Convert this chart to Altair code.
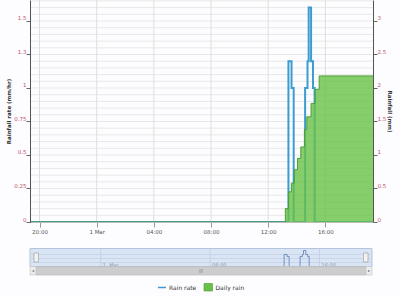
import altair as alt
import pandas as pd

# ---------------- data ----------------
rate_time = ["28 Feb 19:20", "1 Mar 13:25", "1 Mar 13:38", "1 Mar 13:47", "1 Mar 14:35",
             "1 Mar 14:45", "1 Mar 14:50", "1 Mar 15:00", "1 Mar 15:08", "1 Mar 15:15",
             "1 Mar 19:20"]
rate_mm_hr = [0, 1.2, 1.0, 0, 1.0, 1.2, 1.6, 1.2, 1.0, 0, 0]

rain_time = ["28 Feb 19:20", "1 Mar 13:12", "1 Mar 13:25", "1 Mar 13:37", "1 Mar 13:50",
             "1 Mar 14:03", "1 Mar 14:17", "1 Mar 14:32", "1 Mar 14:42", "1 Mar 15:00",
             "1 Mar 15:17", "1 Mar 15:34", "1 Mar 19:20"]
daily_rain_mm = [0, 0.2, 0.45, 0.58, 0.78, 0.95, 1.12, 1.38, 1.57, 1.77, 1.98, 2.18, 2.18]

x_tick_hours = [20, 24, 28, 32, 36, 40]          # hours after 28 Feb 00:00
x_tick_labels = ["20:00", "1 Mar", "04:00", "08:00", "12:00", "16:00"]
rate_ticks = [0, 0.25, 0.5, 0.75, 1, 1.25, 1.5]
rain_ticks = [0, 0.5, 1, 1.5, 2, 2.5, 3]
nav_tick_hours = [24, 32, 40]
nav_tick_labels = ["1. Mar", "08:00", "16:00"]
minor_grid = [round(i * 0.05, 2) for i in range(34)]

RATE_MAX = 1.6567
RAIN_MAX = 3.3134


def to_hours(s):
    day, mon, hm = s.split()
    h, m = hm.split(":")
    return (24 if mon == "Mar" else 0) + int(h) + int(m) / 60.0


X0, X1 = to_hours(rate_time[0]), to_hours(rate_time[-1])

rate_df = pd.DataFrame({"t": [to_hours(s) for s in rate_time], "v": rate_mm_hr})
rain_df = pd.DataFrame({"t": [to_hours(s) for s in rain_time], "v": daily_rain_mm})
hgrid_df = pd.DataFrame({"v": minor_grid, "x0": X0, "x1": X1})
vgrid_df = pd.DataFrame({"h": x_tick_hours, "y0": 0.0, "y1": RATE_MAX})
nav_df = pd.DataFrame({"h": nav_tick_hours, "lab": nav_tick_labels})
one = pd.DataFrame({"a": [0]})

# ---------------- scales (explicit pixel ranges) ----------------
main_x = alt.Scale(domain=[X0, X1], range=[30, 373], nice=False, zero=False)
rate_y = alt.Scale(domain=[0, RATE_MAX], range=[222, 0], nice=False, zero=False)
rain_y = alt.Scale(domain=[0, RAIN_MAX], range=[222, 0], nice=False, zero=False)
nav_x = alt.Scale(domain=[X0, X1], range=[37, 365], nice=False, zero=False)
nav_y = alt.Scale(domain=[0, 1.6], range=[266.5, 250.5], nice=False, zero=False)

FONT = "DejaVu Sans"
LABEL_RED = "#c4506a"

label_expr = " : ".join(
    f"datum.value == {h} ? '{lab}'" for h, lab in zip(x_tick_hours, x_tick_labels)
) + " : ''"

# ---------------- main plot ----------------
hgrid = alt.Chart(hgrid_df).mark_rule(color="#e8e8e8", strokeWidth=1).encode(
    y=alt.Y("v:Q", scale=rate_y, axis=None),
    x=alt.X("x0:Q", scale=main_x, axis=None),
    x2="x1:Q",
)
vgrid = alt.Chart(vgrid_df).mark_rule(color="#dedede", strokeWidth=1).encode(
    x=alt.X("h:Q", scale=main_x, axis=None),
    y=alt.Y("y0:Q", scale=rate_y, axis=None),
    y2="y1:Q",
)

rate_line = alt.Chart(rate_df).mark_line(
    interpolate="step-after", color="#3d9ccf", strokeWidth=2
).encode(
    x=alt.X("t:Q", scale=main_x, axis=alt.Axis(
        orient="bottom", offset=-74, values=x_tick_hours, labelExpr=label_expr,
        grid=False, title=None, labelFont=FONT, labelFontSize=5.5, labelColor="#555",
        tickSize=5, tickColor="#999", domainColor="#bbb", labelPadding=2,
        labelFlush=False, labelOverlap=False, zindex=1)),
    y=alt.Y("v:Q", scale=rate_y, axis=alt.Axis(
        orient="left", offset=-30, values=rate_ticks, format="~g", grid=False,
        title="Rainfall rate (mm/hr)", titleFont=FONT, titleFontSize=5.5,
        titleFontWeight="bold", titleColor="#333", titleX=-22, titleY=111,
        titleAngle=-90, titleAlign="center", titleBaseline="middle",
        labelFont=FONT, labelFontSize=5.5, labelColor=LABEL_RED, labelBaseline="bottom",
        tickSize=4, tickColor="#666", domainColor="#555", labelPadding=0,
        labelOverlap=False, labelFlush=False, zindex=1)),
)

rain_area = alt.Chart(rain_df).mark_area(
    interpolate="step-after", color="#68c046", fillOpacity=0.8,
    line={"color": "#4e9e33", "strokeWidth": 1},
).encode(
    x=alt.X("t:Q", scale=main_x, axis=None),
    y=alt.Y("v:Q", scale=rain_y, axis=alt.Axis(
        orient="right", offset=-27, values=rain_ticks, format="~g", grid=False,
        title="Rainfall (mm)", titleFont=FONT, titleFontSize=5.5,
        titleFontWeight="bold", titleColor="#333", titleX=16, titleY=111,
        titleAngle=90, titleAlign="center", titleBaseline="middle",
        labelFont=FONT, labelFontSize=5.5, labelColor=LABEL_RED, labelBaseline="bottom",
        tickSize=4, tickColor="#666", domainColor="#555", labelPadding=0,
        labelOverlap=False, labelFlush=False, zindex=1)),
)

# ---------------- navigator ----------------
nav_bg = alt.Chart(one).mark_rect(fill="#d9e4f5", stroke="#b4c4dc", strokeWidth=1).encode(
    x=alt.value(30), x2=alt.value(372), y=alt.value(248.5), y2=alt.value(266.5))
nav_vgrid = alt.Chart(nav_df).mark_rule(color="#c4d0e4", strokeWidth=1).encode(
    x=alt.X("h:Q", scale=nav_x, axis=None), y=alt.value(248.5), y2=alt.value(266.5))
nav_hgrid = alt.Chart(pd.DataFrame({"v": [0.4, 0.8, 1.2]})).mark_rule(
    color="#c9d5e8", strokeWidth=1).encode(
    y=alt.Y("v:Q", scale=nav_y, axis=None), x=alt.value(30), x2=alt.value(372))
nav_text = alt.Chart(nav_df).mark_text(
    align="left", baseline="middle", dx=2, font=FONT, fontSize=5, color="#8a93a6").encode(
    x=alt.X("h:Q", scale=nav_x, axis=None), y=alt.value(264.5), text="lab:N")
nav_line = alt.Chart(rate_df).mark_line(
    interpolate="step-after", color="#5a7fb5", strokeWidth=0.8).encode(
    x=alt.X("t:Q", scale=nav_x, axis=None),
    y=alt.Y("v:Q", scale=nav_y, axis=None))
handle_l = alt.Chart(one).mark_rect(fill="#f2f2f2", stroke="#999", strokeWidth=0.6).encode(
    x=alt.value(34), x2=alt.value(38.5), y=alt.value(253), y2=alt.value(262))
handle_r = alt.Chart(one).mark_rect(fill="#f2f2f2", stroke="#999", strokeWidth=0.6).encode(
    x=alt.value(363.5), x2=alt.value(368), y=alt.value(253), y2=alt.value(262))
scroll_bg = alt.Chart(one).mark_rect(fill="#ececec", stroke="#c4c4c4", strokeWidth=0.6).encode(
    x=alt.value(30), x2=alt.value(372), y=alt.value(266.5), y2=alt.value(275))
scroll_thumb = alt.Chart(one).mark_rect(fill="#cdcdcd", stroke="#b8b8b8", strokeWidth=0.5).encode(
    x=alt.value(36), x2=alt.value(366), y=alt.value(266.8), y2=alt.value(274.7))
scroll_text = alt.Chart(pd.DataFrame({"x": [33, 201, 369], "s": ["◂", "|||", "▸"]})).mark_text(
    font=FONT, fontSize=4, color="#666", baseline="middle", align="center").encode(
    x=alt.X("x:Q", scale=alt.Scale(domain=[0, 400], range=[0, 400]), axis=None),
    y=alt.value(271), text="s:N")

# ---------------- legend ----------------
leg_line = alt.Chart(one).mark_rule(color="#3d9ccf", strokeWidth=1.5).encode(
    x=alt.value(158), x2=alt.value(166), y=alt.value(287.5))
leg_box = alt.Chart(one).mark_rect(fill="#68c046", stroke="#4e9e33", strokeWidth=0.6).encode(
    x=alt.value(204), x2=alt.value(212.5), y=alt.value(283.5), y2=alt.value(291))
leg_text = alt.Chart(pd.DataFrame({"x": [169, 215.5], "s": ["Rain rate", "Daily rain"]})).mark_text(
    font=FONT, fontSize=6, color="#333", baseline="middle", align="left").encode(
    x=alt.X("x:Q", scale=alt.Scale(domain=[0, 400], range=[0, 400]), axis=None),
    y=alt.value(287.5), text="s:N")

chart = alt.layer(
    hgrid, vgrid, rate_line, rain_area,
    nav_bg, nav_hgrid, nav_vgrid, nav_text, nav_line, handle_l, handle_r,
    scroll_bg, scroll_thumb, scroll_text,
    leg_line, leg_box, leg_text,
).resolve_scale(
    x="independent", y="independent"
).properties(
    width=400, height=296, padding=0, background="#fdfdff",
    autosize=alt.AutoSizeParams(type="none"),
).configure_view(stroke=None)

chart.save("out.html", embed_options={"renderer": "svg", "actions": False})
